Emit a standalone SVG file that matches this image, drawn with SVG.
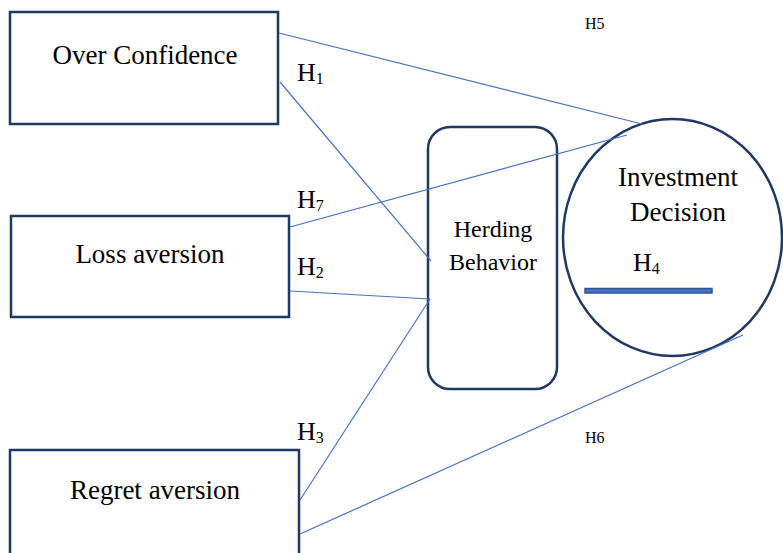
<svg xmlns="http://www.w3.org/2000/svg" width="783" height="553" viewBox="0 0 783 553">
  <style>
    .box { fill: #ffffff; stroke: #1f3864; stroke-width: 2.5; }
    .link { stroke: #4472c4; stroke-width: 1.2; fill: none; }
    .lbl { font-family: "Liberation Serif", "Times New Roman", serif; fill: #000000; }
    .big { font-size: 27px; text-anchor: middle; }
    .mid { font-size: 24px; text-anchor: middle; }
    .hyp { font-size: 26px; }
    .sub { font-size: 16px; }
    .small { font-size: 16px; }
  </style>
  <rect width="783" height="553" fill="#ffffff"/>

  <g id="over-confidence">
    <rect class="box" x="10" y="12" width="268" height="112"/>
    <text class="lbl big" x="145" y="64">Over Confidence</text>
  </g>

  <g id="loss-aversion">
    <rect class="box" x="11" y="216" width="278" height="101"/>
    <text class="lbl big" x="150" y="263">Loss aversion</text>
  </g>

  <g id="regret-aversion">
    <rect class="box" x="10" y="450" width="289" height="106"/>
    <text class="lbl big" x="155" y="499">Regret aversion</text>
  </g>

  <g id="herding-behavior">
    <rect class="box" x="428" y="127" width="129" height="262" rx="22" ry="22"/>
    <text class="lbl mid" x="493" y="237">Herding</text>
    <text class="lbl mid" x="493" y="270">Behavior</text>
  </g>

  <g id="investment-decision">
    <ellipse class="box" cx="672.5" cy="237.5" rx="109.5" ry="118.5"/>
    <text class="lbl big" x="678" y="186">Investment</text>
    <text class="lbl big" x="678" y="221">Decision</text>
    <rect x="585" y="288.5" width="127" height="4.5" fill="#4472c4" stroke="#2f5597" stroke-width="1.5"/>
  </g>

  <!-- connectors drawn over the nodes -->
  <g id="connectors">
    <line class="link" x1="279" y1="33" x2="642" y2="124"/>
    <line class="link" x1="280" y1="82" x2="431" y2="261"/>
    <line class="link" x1="290" y1="227" x2="627" y2="135"/>
    <line class="link" x1="290" y1="291" x2="430" y2="299"/>
    <line class="link" x1="300" y1="500" x2="430" y2="299"/>
    <line class="link" x1="300" y1="534" x2="743" y2="335"/>
  </g>

  <!-- hypothesis labels -->
  <g id="hypotheses">
    <text class="lbl hyp" x="297" y="81">H<tspan class="sub" dy="3">1</tspan></text>
    <text class="lbl hyp" x="297" y="208">H<tspan class="sub" dy="3">7</tspan></text>
    <text class="lbl hyp" x="297" y="275">H<tspan class="sub" dy="3">2</tspan></text>
    <text class="lbl hyp" x="297" y="440">H<tspan class="sub" dy="3">3</tspan></text>
    <text class="lbl hyp" x="633" y="271">H<tspan class="sub" dy="3">4</tspan></text>
    <text class="lbl small" x="585" y="29">H5</text>
    <text class="lbl small" x="585" y="443">H6</text>
  </g>
</svg>
